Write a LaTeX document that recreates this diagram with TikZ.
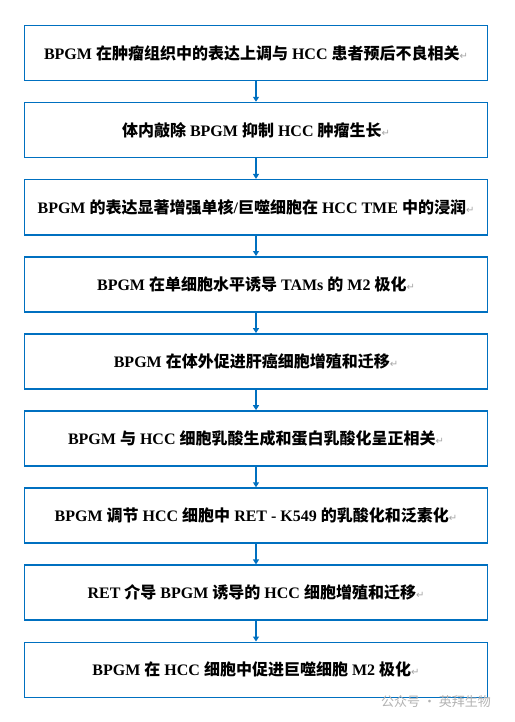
\documentclass[tikz,border=0pt]{standalone}
\usepackage{fontspec}
\setmainfont{Liberation Serif}
\newfontfamily\cjk{Noto Sans CJK SC}
\newfontfamily\symf{DejaVu Sans}
\usepackage{tikz}
\usetikzlibrary{positioning,arrows.meta}

\definecolor{wordblue}{HTML}{0070C0}
\newcommand{\zh}[1]{{\cjk #1}}
\newcommand{\pmark}{{\symf\mdseries\fontsize{10}{10}\selectfont\color{black!35}↵}}

\begin{document}
\begin{tikzpicture}[
    node distance=20.5pt,
    stepbox/.style={draw=wordblue, line width=1.6pt, minimum width=463pt,
        minimum height=55pt, inner sep=0pt, align=center,
        font=\fontsize{16}{19}\selectfont\bfseries},
    flow/.style={draw=wordblue, line width=1.3pt,
        -{Triangle[length=5pt,width=6pt]}}
]
    \useasboundingbox (0,0) rectangle (514pt,-722pt);

    % caixas do fluxo
    \node[stepbox] (b1) at (256pt,-53pt) {BPGM \zh{在肿瘤组织中的表达上调与} HCC \zh{患者预后不良相关}\pmark};
    \node[stepbox, below=of b1] (b2) {\zh{体内敲除} BPGM \zh{抑制} HCC \zh{肿瘤生长}\pmark};
    \node[stepbox, below=of b2] (b3) {BPGM \zh{的表达显著增强单核}/\zh{巨噬细胞在} HCC TME \zh{中的浸润}\pmark};
    \node[stepbox, below=of b3] (b4) {BPGM \zh{在单细胞水平诱导} TAMs \zh{的} M2 \zh{极化}\pmark};
    \node[stepbox, below=of b4] (b5) {BPGM \zh{在体外促进肝癌细胞增殖和迁移}\pmark};
    \node[stepbox, below=of b5] (b6) {BPGM \zh{与} HCC \zh{细胞乳酸生成和蛋白乳酸化呈正相关}\pmark};
    \node[stepbox, below=of b6] (b7) {BPGM \zh{调节} HCC \zh{细胞中} RET - K549 \zh{的乳酸化和泛素化}\pmark};
    \node[stepbox, below=of b7] (b8) {RET \zh{介导} BPGM \zh{诱导的} HCC \zh{细胞增殖和迁移}\pmark};
    \node[stepbox, below=of b8] (b9) {BPGM \zh{在} HCC \zh{细胞中促进巨噬细胞} M2 \zh{极化}\pmark};

    % setas entre as caixas
    \foreach \a/\b in {b1/b2, b2/b3, b3/b4, b4/b5, b5/b6, b6/b7, b7/b8, b8/b9}
        \draw[flow] (\a) -- (\b);

    % marca d'agua
    \node[text=black!30, font=\cjk\fontsize{13}{13}\selectfont] (wm) at (436pt,-702pt) {公众号 · 英拜生物};
\end{tikzpicture}
\end{document}
